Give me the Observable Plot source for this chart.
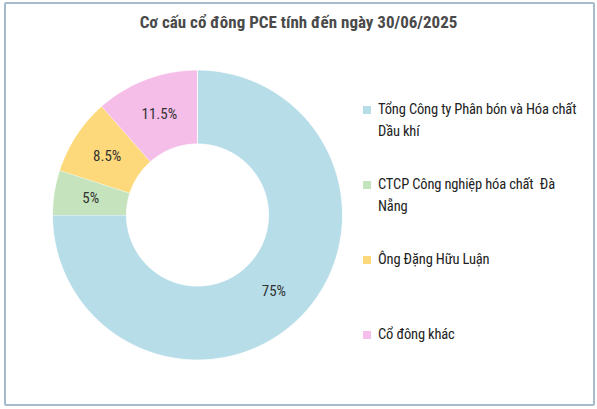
<!DOCTYPE html>
<html>
<head>
<meta charset="utf-8">
<script src="https://cdn.jsdelivr.net/npm/d3@7"></script>
<script src="https://cdn.jsdelivr.net/npm/@observablehq/plot@0.6"></script>
<style>
  html, body { margin: 0; padding: 0; background: #fff; }
  #frame {
    position: relative; width: 597px; height: 409px; overflow: hidden;
    font-family: "Roboto Condensed", "DejaVu Sans Condensed", sans-serif;
  }
  #border {
    position: absolute; left: 4px; top: 2px; width: 587px; height: 400px;
    border: 2px solid #a7bbcd; border-radius: 2px; box-sizing: content-box;
  }
  #title {
    position: absolute; left: 0; top: 10px; width: 597px; text-align: center;
    font-size: 17px; font-weight: bold; color: #4a4a4a; line-height: 24px;
  }
  #chart { position: absolute; left: 0; top: 40px; }
  #legend { position: absolute; left: 360px; top: 99px; width: 225px; }
  .item { height: 75px; display: flex; align-items: flex-start; }
  .sw { width: 8px; height: 8px; margin-top: 7px; margin-right: 7px; flex: none; margin-left: 3px; }
  .lab { width: 205px; font-size: 14.5px; letter-spacing: -0.15px; line-height: 22px; color: #222; white-space: pre-wrap; }
</style>
</head>
<body>
<div id="frame">
  <div id="border"></div>
  <div id="title"></div>
  <div id="chart"></div>
  <div id="legend"></div>
</div>
<script>
const title = "Cơ cấu cổ đông PCE tính đến ngày 30/06/2025";
const names = [
  "Tổng Công ty Phân bón và Hóa chất Dầu khí",
  "CTCP Công nghiệp hóa chất  Đà Nẵng",
  "Ông Đặng Hữu Luận",
  "Cổ đông khác"
];
const values = [75, 5, 8.5, 11.5];
const colors = ["#b6dde8", "#c5e4bd", "#fdd97b", "#f5bee8"];
const innerRatio = 0.49;

document.getElementById("title").textContent = title;

const rows = names.map((name, i) => ({name, value: values[i]}));
const arcs = d3.pie().sort(null).value(d => d.value)(rows);

const pts = [];
for (const a of arcs) {
  const n = Math.max(2, Math.ceil((a.endAngle - a.startAngle) / (Math.PI / 180)));
  for (let k = 0; k <= n; k++) {
    const t = a.startAngle + (a.endAngle - a.startAngle) * k / n;
    pts.push({name: a.data.name, x: Math.sin(t), y: Math.cos(t)});
  }
  for (let k = n; k >= 0; k--) {
    const t = a.startAngle + (a.endAngle - a.startAngle) * k / n;
    pts.push({name: a.data.name, x: innerRatio * Math.sin(t), y: innerRatio * Math.cos(t)});
  }
}
const mid = (1 + innerRatio) / 2;
const labels = arcs.map(a => {
  const t = (a.startAngle + a.endAngle) / 2;
  return {name: a.data.name, text: a.data.value + "%", x: mid * Math.sin(t), y: mid * Math.cos(t)};
});

const plot = Plot.plot({
  width: 394, height: 369,
  marginLeft: 52, marginRight: 52, marginTop: 29.5, marginBottom: 49.5,
  x: {domain: [-1, 1], axis: null},
  y: {domain: [-1, 1], axis: null},
  color: {domain: names, range: colors},
  style: {fontFamily: '"Roboto Condensed", "DejaVu Sans Condensed", sans-serif', background: "transparent"},
  marks: [
    Plot.line(pts, {x: "x", y: "y", z: "name", fill: "name", stroke: "white", strokeWidth: 0.8, curve: "linear"}),
    Plot.text(labels, {x: "x", y: "y", text: "text", fill: "#333", fontSize: 15})
  ]
});
document.getElementById("chart").appendChild(plot);

const leg = document.getElementById("legend");
names.forEach((n, i) => {
  const it = document.createElement("div"); it.className = "item";
  const sw = document.createElement("div"); sw.className = "sw"; sw.style.background = colors[i];
  const lb = document.createElement("div"); lb.className = "lab"; lb.textContent = n;
  it.appendChild(sw); it.appendChild(lb); leg.appendChild(it);
});
</script>
</body>
</html>
